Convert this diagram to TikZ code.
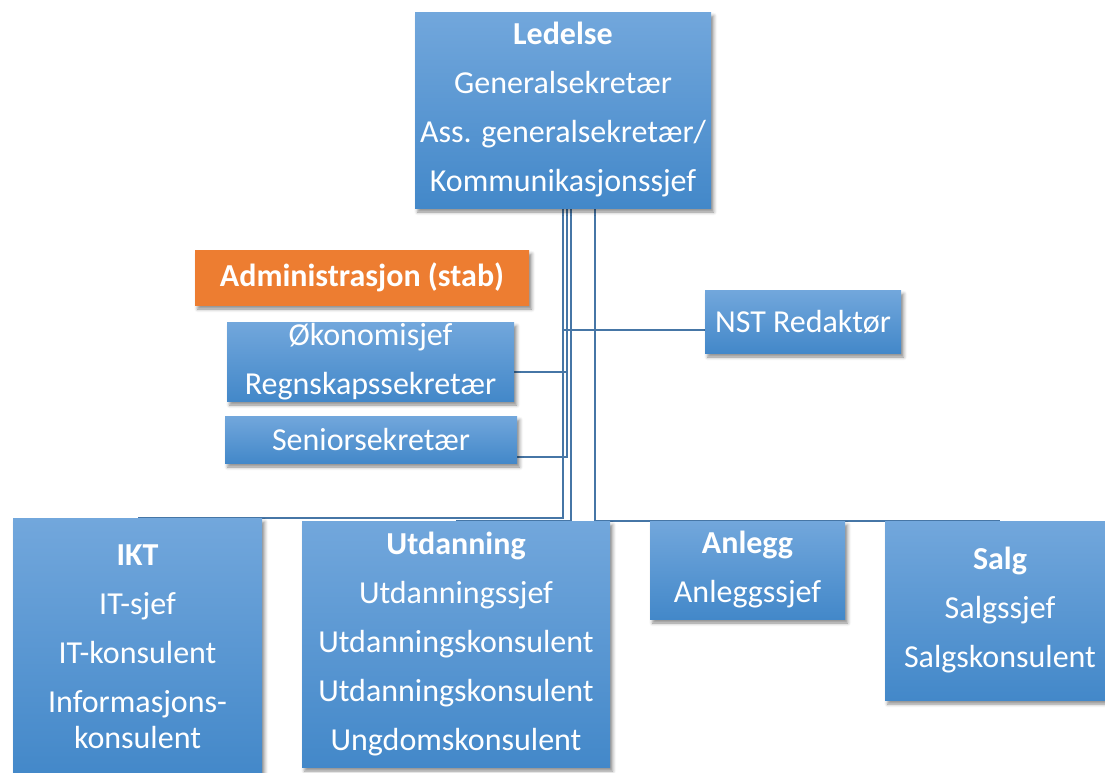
\documentclass[tikz,border=0pt]{standalone}
\usepackage{fontspec}
\setmainfont{Carlito}
\usetikzlibrary{shadows.blur,backgrounds}
\definecolor{boxtop}{HTML}{72A7DC}
\definecolor{boxbot}{HTML}{4388C9}
\definecolor{stab}{HTML}{ED7D31}
\definecolor{linkcol}{HTML}{4676A6}
\tikzset{
  orgbox/.style={top color=boxtop, bottom color=boxbot, text=white, align=center, inner sep=0pt,
    blur shadow={shadow xshift=2pt, shadow yshift=-3pt, shadow blur radius=2.5pt, shadow opacity=45},
    font=\fontsize{24}{36.75}\selectfont},
  stabbox/.style={orgbox, top color=stab, bottom color=stab},
  link/.style={draw=linkcol, line width=1.8pt}
}
\begin{document}
\begin{tikzpicture}[x=0.75pt, y=-0.75pt]
    \useasboundingbox (0,0) rectangle (1105,772);
    \node (ledelse) at (563,110) [orgbox, minimum width=222pt, minimum height=147pt]
        {\textbf{Ledelse}\\Generalsekretær\\Ass. generalsekretær/\\Kommunikasjonssjef};
    \node (admin) at (362,277.5) [stabbox, minimum width=250.5pt, minimum height=41.25pt]
        {\textbf{Administrasjon (stab)}};
    \node (okonomi) at (370.5,361.5) [orgbox, minimum width=215.25pt, minimum height=59.25pt]
        {Økonomisjef\\Regnskapssekretær};
    \node (senior) at (371,439.5) [orgbox, minimum width=219pt, minimum height=35.25pt]
        {Seniorsekretær};
    \node (nst) at (803,321.5) [orgbox, minimum width=147pt, minimum height=47.25pt]
        {NST Redaktør};
    \node (ikt) at (137.5,647) [orgbox, minimum width=186.75pt, minimum height=193.5pt]
        {\textbf{IKT}\\IT-sjef\\IT-konsulent\\Informasjons-\\[-9.75pt]konsulent};
    \node (utd) at (456,644) [orgbox, minimum width=231pt, minimum height=184.5pt]
        {\textbf{Utdanning}\\Utdanningssjef\\Utdanningskonsulent\\Utdanningskonsulent\\Ungdomskonsulent};
    \node (anlegg) at (747.5,570) [orgbox, minimum width=146.25pt, minimum height=73.5pt]
        {\textbf{Anlegg}\\Anleggssjef};
    \node (salg) at (1000,610.5) [orgbox, minimum width=172.5pt, minimum height=134.25pt]
        {\textbf{Salg}\\Salgssjef\\Salgskonsulent};
    \coordinate (l1) at (563,208);
    \coordinate (l2) at (567,208);
    \coordinate (l3) at (571,208);
    \coordinate (l4) at (595,208);
    \begin{scope}[on background layer]
    \draw [link] (l1) |- (nst.west |- 0,330);
    \draw [link] (l2) |- (okonomi.east |- 0,372);
    \draw [link] (l2) |- (senior.east |- 0,457);
    \draw [link] (l1) |- (ikt.north);
    \draw [link] (l3) |- (utd.north);
    \draw [link] (l4) |- (anlegg.north);
    \draw [link] (l4) |- (salg.north);
    \end{scope}
\end{tikzpicture}
\end{document}
